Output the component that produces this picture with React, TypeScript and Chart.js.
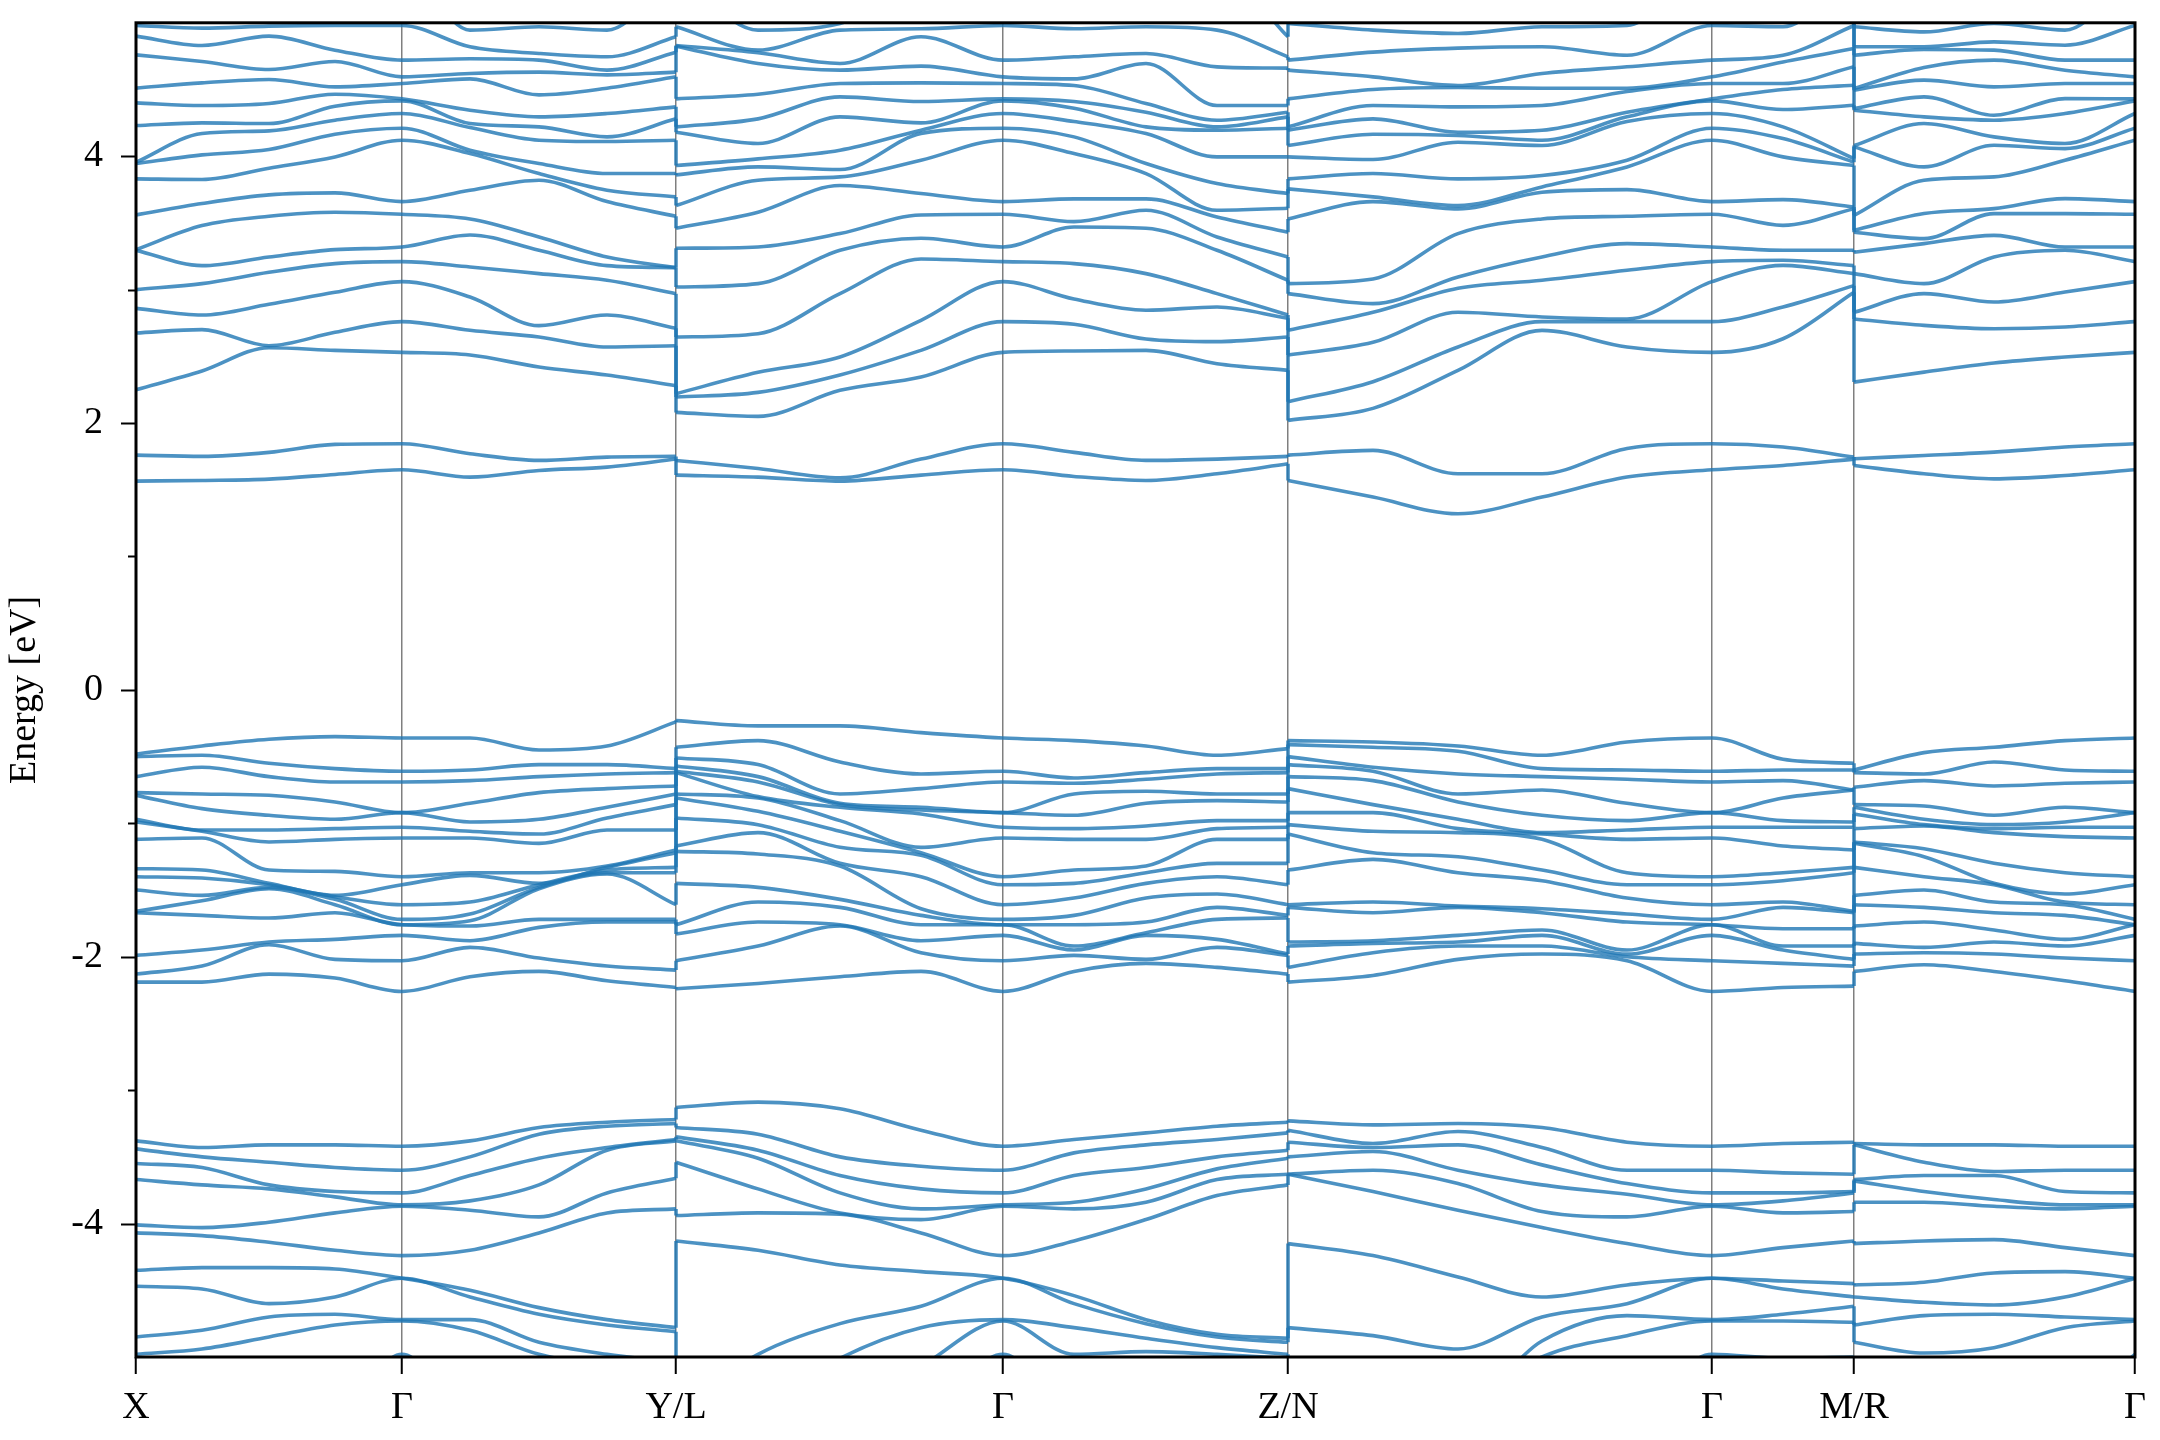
import React, { useEffect, useRef } from 'react';
import { Chart, registerables } from 'chart.js';

Chart.register(...registerables);

// k-path positions of the sampled columns (duplicates mark discontinuities Y|L, Z|N, M|R)
const kPath = [0, 66, 133, 199, 266, 334, 403, 471, 540,
  540, 622, 704, 785, 867, 938, 1010, 1081, 1152,
  1152, 1237, 1322, 1406, 1491, 1576, 1647, 1718,
  1718, 1788, 1858, 1929, 1999];

const kTickPos = [0, 266, 540, 867, 1152, 1576, 1718, 1999];
const kTickLabels = ['X', 'Γ', 'Y/L', 'Γ', 'Z/N', 'Γ', 'M/R', 'Γ'];
const yMajorTicks = [-4, -2, 0, 2, 4];
const yMinorTicks = [-3, -1, 1, 3];

// energies (eV) at Γ
const gammaCond = [1.65, 1.845, 2.53, 2.76, 3.06, 3.21, 3.32, 3.565, 3.66, 4.12, 4.21, 4.32, 4.415, 4.43, 4.545, 4.595, 4.72, 4.98];
const gammaVal = [-0.36, -0.61, -0.69, -0.92, -0.92, -1.03, -1.11, -1.40, -1.46, -1.61, -1.72, -1.76, -1.76, -1.84, -2.03, -2.26];
const gammaCore = [-3.42, -3.60, -3.77, -3.86, -3.87, -4.24, -4.41, -4.41, -4.72, -4.73, -4.98];

// conduction bands, one list per column
const conductionCols = [
  [1.565, 1.76, 2.25, 2.675, 2.86, 3.00, 3.295, 3.30, 3.56, 3.83, 3.945, 3.955, 4.23, 4.40, 4.51, 4.76, 4.90, 4.98],
  [1.57, 1.75, 2.39, 2.70, 2.81, 3.045, 3.18, 3.48, 3.645, 3.825, 4.01, 4.17, 4.25, 4.38, 4.55, 4.71, 4.83, 4.96],
  [1.58, 1.78, 2.565, 2.58, 2.89, 3.13, 3.245, 3.55, 3.71, 3.91, 4.05, 4.19, 4.245, 4.395, 4.575, 4.65, 4.90, 4.975],
  [1.615, 1.84, 2.545, 2.68, 2.98, 3.195, 3.30, 3.58, 3.725, 3.995, 4.165, 4.27, 4.375, 4.465, 4.52, 4.71, 4.795, 4.98],
  gammaCond,
  [1.595, 1.77, 2.51, 2.695, 2.945, 3.17, 3.41, 3.53, 3.745, 4.02, 4.045, 4.215, 4.245, 4.345, 4.58, 4.62, 4.73, 4.82, 4.945],
  [1.645, 1.72, 2.42, 2.645, 2.73, 3.12, 3.295, 3.395, 3.82, 3.87, 3.945, 4.12, 4.22, 4.295, 4.46, 4.63, 4.72, 4.77, 4.97],
  [1.67, 1.745, 2.36, 2.57, 2.81, 3.07, 3.18, 3.245, 3.66, 3.745, 3.87, 4.11, 4.145, 4.32, 4.51, 4.61, 4.645, 4.745, 4.945],
  [1.73, 1.75, 2.28, 2.58, 2.71, 2.97, 3.165, 3.165, 3.55, 3.695, 3.87, 4.12, 4.28, 4.37, 4.595, 4.63, 4.78, 4.895],
  [1.61, 1.72, 2.08, 2.195, 2.22, 2.645, 3.02, 3.31, 3.46, 3.63, 3.86, 3.93, 4.18, 4.22, 4.43, 4.825, 4.83, 4.97],
  [1.595, 1.66, 2.05, 2.23, 2.38, 2.67, 3.045, 3.32, 3.58, 3.82, 3.92, 3.98, 4.095, 4.28, 4.465, 4.695, 4.775, 4.795, 4.945],
  [1.565, 1.59, 2.245, 2.36, 2.495, 2.97, 3.295, 3.42, 3.78, 3.845, 3.90, 4.045, 4.295, 4.445, 4.545, 4.645, 4.695, 4.945, 4.995],
  [1.61, 1.73, 2.345, 2.545, 2.77, 3.23, 3.385, 3.56, 3.72, 3.97, 4.17, 4.195, 4.25, 4.41, 4.55, 4.675, 4.895, 4.955],
  gammaCond,
  [1.60, 1.78, 2.54, 2.74, 2.93, 3.195, 3.47, 3.51, 3.68, 4.02, 4.145, 4.26, 4.36, 4.41, 4.53, 4.58, 4.745, 4.955],
  [1.57, 1.72, 2.545, 2.63, 2.845, 3.12, 3.46, 3.595, 3.68, 3.87, 3.945, 4.17, 4.22, 4.33, 4.395, 4.695, 4.77, 4.97],
  [1.62, 1.73, 2.445, 2.61, 2.87, 2.97, 3.295, 3.395, 3.545, 3.595, 3.795, 3.995, 4.195, 4.22, 4.27, 4.38, 4.67, 4.945],
  [1.695, 1.75, 2.395, 2.645, 2.785, 2.81, 3.07, 3.245, 3.43, 3.61, 3.72, 3.995, 4.21, 4.295, 4.33, 4.38, 4.66, 4.745, 4.895],
  [1.57, 1.76, 2.02, 2.16, 2.51, 2.695, 2.97, 3.045, 3.53, 3.755, 3.83, 3.995, 4.08, 4.195, 4.22, 4.43, 4.645, 4.72, 4.995],
  [1.445, 1.795, 2.11, 2.31, 2.605, 2.83, 2.895, 3.08, 3.66, 3.695, 3.87, 3.975, 4.165, 4.28, 4.38, 4.50, 4.595, 4.78, 4.945],
  [1.32, 1.62, 2.395, 2.57, 2.83, 3.01, 3.095, 3.42, 3.605, 3.63, 3.83, 4.105, 4.155, 4.18, 4.37, 4.515, 4.53, 4.81, 4.92],
  [1.445, 1.62, 2.695, 2.76, 2.795, 3.07, 3.245, 3.53, 3.73, 3.77, 3.855, 4.08, 4.12, 4.195, 4.38, 4.51, 4.62, 4.82, 4.97],
  [1.595, 1.81, 2.57, 2.76, 2.78, 3.145, 3.345, 3.55, 3.75, 3.92, 3.97, 4.26, 4.295, 4.33, 4.485, 4.51, 4.67, 4.757, 4.98],
  gammaCond,
  [1.682, 1.82, 2.632, 2.87, 3.182, 3.22, 3.295, 3.482, 3.675, 3.995, 4.132, 4.22, 4.35, 4.50, 4.545, 4.707, 4.757, 4.97],
  [1.73, 1.745, 2.98, 3.03, 3.12, 3.18, 3.295, 3.607, 3.62, 3.93, 3.955, 3.982, 4.382, 4.532, 4.67, 4.807, 4.98],
  [1.682, 1.732, 2.307, 2.78, 2.83, 3.12, 3.28, 3.43, 3.445, 3.557, 4.07, 4.08, 4.345, 4.357, 4.495, 4.507, 4.757, 4.82, 4.97],
  [1.62, 1.757, 2.382, 2.732, 2.97, 3.045, 3.345, 3.382, 3.57, 3.82, 3.92, 4.245, 4.295, 4.445, 4.57, 4.665, 4.80, 4.82, 4.932],
  [1.582, 1.782, 2.45, 2.707, 2.907, 3.245, 3.407, 3.57, 3.607, 3.845, 4.082, 4.145, 4.27, 4.307, 4.52, 4.72, 4.795, 4.857, 4.995],
  [1.607, 1.82, 2.495, 2.72, 2.982, 3.295, 3.32, 3.57, 3.682, 3.97, 4.057, 4.095, 4.32, 4.432, 4.545, 4.645, 4.72, 4.832, 4.945],
  gammaCond,
];

// upper valence bands, one list per column
const valenceCols = [
  [-0.48, -0.50, -0.65, -0.77, -0.79, -0.97, -0.99, -1.12, -1.34, -1.40, -1.50, -1.66, -1.67, -1.99, -2.13, -2.19],
  [-0.42, -0.49, -0.58, -0.78, -0.89, -1.05, -1.06, -1.11, -1.35, -1.41, -1.54, -1.58, -1.69, -1.95, -2.07, -2.19],
  [-0.37, -0.55, -0.65, -0.79, -0.94, -1.05, -1.14, -1.35, -1.45, -1.46, -1.48, -1.49, -1.71, -1.89, -1.91, -2.13],
  [-0.35, -0.59, -0.69, -0.84, -0.97, -1.04, -1.12, -1.36, -1.54, -1.55, -1.57, -1.61, -1.67, -1.87, -2.02, -2.16],
  gammaVal,
  [-0.36, -0.60, -0.68, -0.85, -0.99, -1.06, -1.11, -1.37, -1.39, -1.59, -1.68, -1.73, -1.77, -1.88, -1.93, -2.15],
  [-0.45, -0.56, -0.65, -0.77, -0.97, -1.08, -1.15, -1.37, -1.45, -1.46, -1.48, -1.49, -1.72, -1.78, -2.01, -2.11],
  [-0.42, -0.56, -0.63, -0.74, -0.88, -0.96, -1.05, -1.32, -1.33, -1.35, -1.37, -1.38, -1.72, -1.74, -2.07, -2.18],
  [-0.24, -0.59, -0.62, -0.72, -0.78, -0.86, -1.05, -1.20, -1.22, -1.33, -1.37, -1.61, -1.72, -1.74, -2.10, -2.23],
  [-0.23, -0.43, -0.51, -0.57, -0.61, -0.62, -0.78, -0.81, -0.96, -1.17, -1.21, -1.45, -1.76, -1.83, -2.03, -2.24],
  [-0.27, -0.38, -0.56, -0.65, -0.69, -0.80, -0.81, -0.91, -1.01, -1.07, -1.23, -1.48, -1.59, -1.74, -1.92, -2.20],
  [-0.27, -0.54, -0.78, -0.85, -0.86, -0.88, -0.98, -1.06, -1.18, -1.30, -1.32, -1.57, -1.63, -1.76, -1.77, -2.15],
  [-0.32, -0.63, -0.74, -0.88, -0.90, -0.93, -1.18, -1.22, -1.24, -1.40, -1.64, -1.69, -1.76, -1.88, -1.97, -2.11],
  gammaVal,
  [-0.38, -0.66, -0.70, -0.78, -0.94, -1.04, -1.12, -1.35, -1.45, -1.56, -1.69, -1.76, -1.92, -1.95, -1.99, -2.11],
  [-0.42, -0.62, -0.67, -0.76, -0.85, -1.02, -1.12, -1.32, -1.37, -1.45, -1.56, -1.74, -1.82, -1.84, -2.02, -2.05],
  [-0.49, -0.59, -0.63, -0.78, -0.83, -0.98, -1.04, -1.12, -1.30, -1.40, -1.53, -1.63, -1.72, -1.87, -1.93, -2.08],
  [-0.44, -0.59, -0.62, -0.78, -0.84, -0.98, -1.03, -1.12, -1.30, -1.46, -1.61, -1.69, -1.71, -1.98, -1.99, -2.13],
  [-0.38, -0.41, -0.50, -0.56, -0.65, -0.74, -0.92, -1.01, -1.08, -1.35, -1.61, -1.63, -1.89, -1.92, -2.08, -2.19],
  [-0.39, -0.43, -0.58, -0.61, -0.68, -0.86, -0.92, -1.06, -1.22, -1.27, -1.59, -1.67, -1.88, -1.90, -1.97, -2.14],
  [-0.42, -0.46, -0.63, -0.78, -0.84, -0.97, -1.04, -1.07, -1.25, -1.37, -1.62, -1.63, -1.84, -1.89, -1.92, -2.02],
  [-0.49, -0.59, -0.65, -0.75, -0.94, -1.07, -1.08, -1.12, -1.35, -1.43, -1.64, -1.67, -1.80, -1.84, -1.92, -1.98],
  [-0.39, -0.60, -0.67, -0.85, -0.98, -1.05, -1.12, -1.37, -1.46, -1.56, -1.68, -1.74, -1.95, -1.98, -2.00, -2.03],
  gammaVal,
  [-0.52, -0.60, -0.68, -0.81, -0.98, -1.03, -1.17, -1.37, -1.43, -1.59, -1.63, -1.79, -1.92, -1.95, -2.05, -2.23],
  [-0.55, -0.60, -0.75, -0.75, -0.99, -1.03, -1.20, -1.33, -1.37, -1.66, -1.67, -1.79, -1.92, -2.02, -2.07, -2.22],
  [-0.60, -0.62, -0.73, -0.86, -0.88, -0.93, -1.04, -1.14, -1.15, -1.33, -1.54, -1.61, -1.77, -1.90, -1.98, -2.11],
  [-0.47, -0.63, -0.68, -0.87, -0.97, -1.01, -1.02, -1.19, -1.25, -1.40, -1.50, -1.63, -1.74, -1.93, -1.97, -2.06],
  [-0.43, -0.54, -0.72, -0.94, -1.01, -1.04, -1.07, -1.30, -1.45, -1.46, -1.59, -1.67, -1.80, -1.89, -1.98, -2.11],
  [-0.38, -0.60, -0.70, -0.88, -0.99, -1.03, -1.10, -1.37, -1.53, -1.59, -1.61, -1.69, -1.87, -1.92, -2.01, -2.18],
  gammaVal,
];

// lower (semicore) bands, one list per column
const coreCols = [
  [-3.38, -3.44, -3.55, -3.67, -4.01, -4.07, -4.35, -4.47, -4.85, -4.98],
  [-3.43, -3.50, -3.58, -3.71, -4.03, -4.09, -4.33, -4.49, -4.80, -4.94],
  [-3.41, -3.54, -3.71, -3.74, -3.99, -4.14, -4.33, -4.60, -4.70, -4.85],
  [-3.41, -3.58, -3.76, -3.80, -3.92, -4.20, -4.34, -4.55, -4.68, -4.76],
  gammaCore,
  [-3.38, -3.50, -3.64, -3.83, -3.90, -4.20, -4.50, -4.55, -4.72, -4.80],
  [-3.28, -3.33, -3.51, -3.71, -3.95, -4.07, -4.63, -4.68, -4.89, -4.98],
  [-3.24, -3.27, -3.43, -3.45, -3.77, -3.92, -4.72, -4.76, -4.98, -5.07],
  [-3.22, -3.25, -3.37, -3.38, -3.66, -3.89, -4.78, -4.81, -5.04, -5.10],
  [-3.13, -3.28, -3.35, -3.38, -3.54, -3.94, -4.13],
  [-3.09, -3.33, -3.45, -3.51, -3.74, -3.92, -4.20, -4.98],
  [-3.14, -3.50, -3.64, -3.77, -3.92, -3.93, -4.31, -4.75, -5.01],
  [-3.30, -3.57, -3.74, -3.89, -3.97, -4.07, -4.36, -4.62, -4.78, -5.07],
  gammaCore,
  [-3.37, -3.47, -3.64, -3.84, -3.89, -4.13, -4.54, -4.60, -4.78, -4.98],
  [-3.32, -3.41, -3.58, -3.74, -3.84, -3.97, -4.72, -4.75, -4.86, -4.96],
  [-3.27, -3.37, -3.50, -3.59, -3.67, -3.79, -4.83, -4.85, -4.93, -4.98],
  [-3.24, -3.32, -3.45, -3.51, -3.63, -3.71, -4.86, -4.89, -4.98, -5.01],
  [-3.23, -3.30, -3.39, -3.50, -3.63, -3.63, -4.15, -4.78],
  [-3.26, -3.40, -3.43, -3.46, -3.60, -3.76, -4.24, -4.84],
  [-3.25, -3.31, -3.41, -3.60, -3.70, -3.90, -4.40, -4.94],
  [-3.28, -3.43, -3.56, -3.71, -3.91, -4.03, -4.55, -4.70, -4.88, -5.00],
  [-3.39, -3.60, -3.70, -3.78, -3.95, -4.15, -4.46, -4.60, -4.69, -4.84],
  gammaCore,
  [-3.40, -3.62, -3.77, -3.83, -3.92, -4.18, -4.43, -4.49, -4.68, -4.73, -5.01],
  [-3.39, -3.63, -3.76, -3.77, -3.91, -4.13, -4.45, -4.55, -4.62, -4.74, -5.00],
  [-3.40, -3.41, -3.67, -3.68, -3.84, -4.15, -4.46, -4.55, -4.76, -4.89],
  [-3.41, -3.54, -3.64, -3.76, -3.84, -4.13, -4.44, -4.59, -4.69, -4.97],
  [-3.41, -3.61, -3.64, -3.82, -3.87, -4.12, -4.37, -4.61, -4.68, -4.93],
  [-3.42, -3.60, -3.76, -3.86, -3.89, -4.18, -4.36, -4.55, -4.70, -4.78],
  gammaCore,
];

const LINE_COLOR = 'rgba(31,119,180,0.8)';
const FONT = "'Liberation Serif', 'Times New Roman', serif";

function toBands(cols: number[][], ascending: boolean, pad: number): number[][] {
  const n = Math.max(...cols.map((c) => c.length));
  const sorted = cols.map((c) => {
    const s = [...c].sort((a, b) => (ascending ? a - b : b - a));
    while (s.length < n) s.push(pad);
    return s;
  });
  return Array.from({ length: n }, (_, b) => sorted.map((s) => s[b]));
}

function pieceRanges(k: number[]): [number, number][] {
  const r: [number, number][] = [];
  let start = 0;
  for (let i = 1; i < k.length; i++) {
    if (k[i] === k[i - 1]) {
      r.push([start, i - 1]);
      start = i;
    }
  }
  r.push([start, k.length - 1]);
  return r;
}

function buildDatasets() {
  const bands = [
    ...toBands(conductionCols, true, 5.4),
    ...toBands(valenceCols, true, -2.3),
    ...toBands(coreCols, false, -5.4),
  ];
  const ranges = pieceRanges(kPath);
  const common = {
    borderColor: LINE_COLOR,
    borderWidth: 3.6,
    pointRadius: 0,
    pointHoverRadius: 0,
    fill: false,
  };
  const ds: any[] = [];
  bands.forEach((band) => {
    ranges.forEach(([a, b], p) => {
      ds.push({
        ...common,
        cubicInterpolationMode: 'monotone',
        data: band.slice(a, b + 1).map((y, j) => ({ x: kPath[a + j], y })),
      });
      if (p < ranges.length - 1) {
        const nx = ranges[p + 1][0];
        ds.push({
          ...common,
          tension: 0,
          data: [
            { x: kPath[b], y: band[b] },
            { x: kPath[nx], y: band[nx] },
          ],
        });
      }
    });
  });
  return ds;
}

const framePlugin = {
  id: 'frameAndYTicks',
  afterDraw(chart: any) {
    const { ctx, chartArea: a, scales } = chart;
    const y = scales.y;
    ctx.save();
    ctx.strokeStyle = '#000';
    ctx.lineWidth = 2;
    const tick = (v: number, len: number) => {
      const py = Math.round(y.getPixelForValue(v)) + 0.5;
      ctx.beginPath();
      ctx.moveTo(a.left - len, py);
      ctx.lineTo(a.left, py);
      ctx.stroke();
    };
    yMajorTicks.forEach((v) => tick(v, 15));
    yMinorTicks.forEach((v) => tick(v, 8));
    ctx.lineWidth = 3;
    ctx.strokeRect(a.left, a.top, a.right - a.left, a.bottom - a.top);
    ctx.restore();
  },
};

export default function App() {
  const ref = useRef<HTMLCanvasElement | null>(null);

  useEffect(() => {
    if (!ref.current) return;
    const chart = new Chart(ref.current, {
      type: 'line',
      data: { datasets: buildDatasets() },
      options: {
        animation: false,
        responsive: false,
        devicePixelRatio: 1,
        events: [],
        layout: { padding: { top: 21, right: 25, bottom: 0, left: 0 } },
        plugins: {
          legend: { display: false },
          tooltip: { enabled: false },
        },
        scales: {
          x: {
            type: 'linear',
            min: 0,
            max: 1999,
            afterBuildTicks: (s: any) => {
              s.ticks = kTickPos.map((v) => ({ value: v }));
            },
            afterFit: (s: any) => {
              s.height = 83;
            },
            ticks: {
              autoSkip: false,
              maxRotation: 0,
              minRotation: 0,
              padding: 11,
              color: '#000',
              font: { family: FONT, size: 38 },
              callback: (_v: any, i: number) => kTickLabels[i],
            },
            grid: {
              color: 'rgba(0,0,0,0.5)',
              lineWidth: 1.5,
              drawTicks: true,
              tickLength: 17,
              tickColor: '#000',
              tickWidth: 2,
            },
            border: { display: false },
          },
          y: {
            type: 'linear',
            min: -5,
            max: 5,
            afterFit: (s: any) => {
              s.width = 136;
            },
            ticks: {
              stepSize: 1,
              padding: 0,
              color: '#000',
              font: { family: FONT, size: 38 },
              callback: (v: any) => (yMajorTicks.includes(Number(v)) ? String(v) : null),
            },
            grid: {
              drawOnChartArea: false,
              drawTicks: true,
              tickLength: 33,
              tickColor: 'rgba(0,0,0,0)',
            },
            border: { display: false },
            title: {
              display: true,
              text: 'Energy [eV]',
              color: '#000',
              font: { family: FONT, size: 38 },
              padding: { top: 2, bottom: 0 },
            },
          },
        },
      },
      plugins: [framePlugin],
    });
    return () => chart.destroy();
  }, []);

  return (
    <div style={{ position: 'fixed', left: 0, top: 0, width: 2160, height: 1440, background: '#fff' }}>
      <canvas ref={ref} width={2160} height={1440} style={{ width: 2160, height: 1440, display: 'block' }} />
    </div>
  );
}
